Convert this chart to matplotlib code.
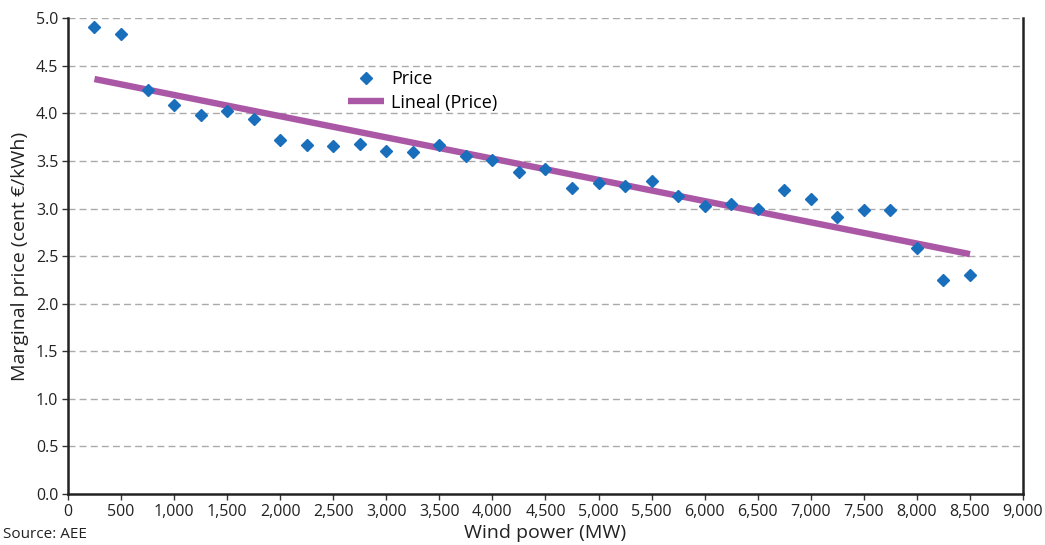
import matplotlib
matplotlib.use("Agg")
import matplotlib.pyplot as plt
import numpy as np
from matplotlib.ticker import MultipleLocator, FuncFormatter

wind_mw = [250, 500, 750, 1000, 1250, 1500, 1750, 2000, 2250, 2500, 2750, 3000,
           3250, 3500, 3750, 4000, 4250, 4500, 4750, 5000, 5250, 5500, 5750, 6000,
           6250, 6500, 6750, 7000, 7250, 7500, 7750, 8000, 8250, 8500]
price = [4.91, 4.83, 4.25, 4.09, 3.98, 4.02, 3.94, 3.72, 3.67, 3.66, 3.68, 3.60,
         3.59, 3.67, 3.55, 3.51, 3.38, 3.42, 3.22, 3.27, 3.24, 3.29, 3.13, 3.03,
         3.05, 2.99, 3.19, 3.10, 2.91, 2.98, 2.98, 2.58, 2.25, 2.30]

plt.rcParams['font.family'] = ['Open Sans', 'DejaVu Sans']

fig = plt.figure(figsize=(10.45, 5.45), dpi=100)
ax = fig.add_axes([0.065, 0.0936, 0.914, 0.873])

x = np.array(wind_mw, dtype=float)
y = np.array(price)
coef = np.polyfit(x, y, 1)
xt = np.array([x.min(), x.max()])
ax.plot(xt, np.polyval(coef, xt), color='#AA57A5', lw=4.6, solid_capstyle='butt',
        label='Lineal (Price)', zorder=2)
ax.plot(x, y, 'D', color='#1A6FBD', ms=6.5, mec='#1A6FBD', label='Price', zorder=3,
        linestyle='none')

ax.set_xlim(0, 9000)
ax.set_ylim(0, 5.0)
ax.xaxis.set_major_locator(MultipleLocator(500))
ax.yaxis.set_major_locator(MultipleLocator(0.5))
ax.xaxis.set_major_formatter(FuncFormatter(lambda v, p: f"{int(v):,}"))
ax.yaxis.set_major_formatter(FuncFormatter(lambda v, p: f"{v:.1f}"))
ax.tick_params(axis='both', labelsize=11.5, length=4, width=1, color='#333333',
               labelcolor='#222222', pad=3)

for yv in np.arange(0.5, 5.01, 0.5):
    ax.axhline(yv, color='#AAAAAA', lw=1, ls=(0, (5, 3)), zorder=0)

ax.spines['top'].set_visible(False)
for s in ['left', 'bottom', 'right']:
    ax.spines[s].set_color('#222222')
    ax.spines[s].set_linewidth(1.8)

ax.set_xlabel('Wind power (MW)', fontsize=14, color='#222222', labelpad=3)
ax.set_ylabel('Marginal price (cent €/kWh)', fontsize=14, color='#222222', labelpad=5)

handles, labels = ax.get_legend_handles_labels()
leg = ax.legend(handles[::-1], labels[::-1], loc='upper left', bbox_to_anchor=(0.276, 0.925),
                frameon=False, fontsize=13, handlelength=2.0, handletextpad=0.4,
                labelspacing=0.3)

fig.text(0.003, 0.012, 'Source: AEE', fontsize=11, color='#222222')

fig.savefig('out.png', dpi=100)
